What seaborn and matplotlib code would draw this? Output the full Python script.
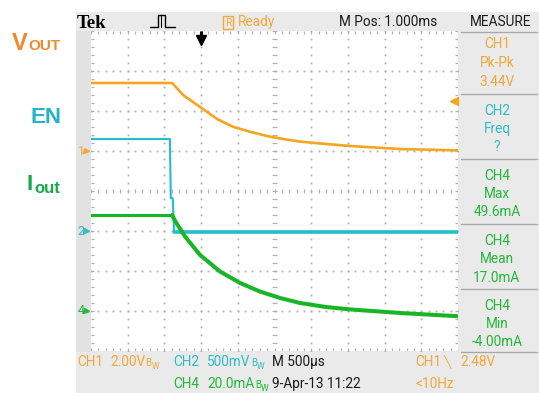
import matplotlib
matplotlib.use("Agg")
import matplotlib.pyplot as plt
from matplotlib import font_manager
from matplotlib.patches import Rectangle
from matplotlib.lines import Line2D
import numpy as np
import pandas as pd
import seaborn as sns

# ---------------- data ----------------
# CH1 (V_OUT), volts vs time relative to trigger (ms)
ch1_time_ms = [-1.50, -0.395, -0.32, -0.245, -0.014, 0.218, 0.436, 0.668, 0.899,
               1.117, 1.349, 1.580, 2.030, 2.711, 3.50]
ch1_volts = [3.40, 3.40, 3.10, 2.80, 2.20, 1.60, 1.21, 0.96, 0.75,
             0.60, 0.47, 0.39, 0.25, 0.10, 0.03]
# CH2 (EN), volts
ch2_time_ms = [-1.50, -0.425, -0.413, -0.386, -0.368]
ch2_volts = [1.15, 1.15, 0.41, 0.41, -0.01]
ch2_tail_time_ms = [-0.368, 0.50, 1.50, 2.50, 3.50]
ch2_tail_volts = [-0.01, -0.01, -0.01, -0.01, -0.01]
# CH4 (I_out), mA
ch4_flat_time_ms = [-1.50, -0.395]
ch4_flat_mA = [48.0, 48.0]
ch4_time_ms = [-0.395, -0.354, -0.218, -0.014, 0.259, 0.531, 0.804, 1.076,
               1.349, 1.700, 2.030, 2.711, 3.50]
ch4_mA = [48.0, 45.0, 37.2, 28.0, 19.7, 14.0, 9.7, 6.5,
          4.0, 2.0, 0.8, -1.0, -2.6]

# channel settings (units per division, ground position in divisions)
ch_scale = {"CH1": 2.0, "CH2": 0.5, "CH4": 20.0}
ch_ground_div = {"CH1": 1, "CH2": -1, "CH4": -3}
ch_marker_label = {"CH1": "1", "CH2": "2", "CH4": "4"}

time_per_div_ms = 0.5
t_left, t_right = -1.5, 3.5

measure_channels = ["CH1", "CH2", "CH4", "CH4", "CH4"]
measure_names = ["Pk-Pk", "Freq", "Max", "Mean", "Min"]
measure_values = ["3.44V", "?", "49.6mA", "17.0mA", "-4.00mA"]
trigger_level_v = 2.48

# ---------------- styling ----------------
W, H = 539, 393
ORANGE_T = "#F7A51E"
CYAN_T = "#22BECB"
GREEN_T = "#17B627"
ORANGE_TXT = "#F3A83A"
CYAN_TXT = "#2DBCC8"
GREEN_TXT = "#22B838"
ch_color = {"CH1": ORANGE_T, "CH2": CYAN_T, "CH4": GREEN_T}
ch_txt = {"CH1": ORANGE_TXT, "CH2": CYAN_TXT, "CH4": GREEN_TXT}
GRAY_BG = "#EAEAEA"
GRAY_BAND = "#E2E2E2"
GRID = "#B2B2B2"

sns.set_style("white")
names = {f.name for f in font_manager.fontManager.ttflist}
scope_font = "Liberation Sans Narrow" if "Liberation Sans Narrow" in names else "Roboto"
plt.rcParams["font.family"] = [scope_font, "DejaVu Sans"]
SF = 10.5 if scope_font == "Liberation Sans Narrow" else 9.8

fig = plt.figure(figsize=(W / 100, H / 100), dpi=100)
fig.patch.set_facecolor("white")
renderer = fig.canvas.get_renderer()


def rect(x0, y0, x1, y1, color, z=-5):
    fig.add_artist(Rectangle((x0 / W, 1 - y1 / H), (x1 - x0) / W, (y1 - y0) / H,
                             transform=fig.transFigure, facecolor=color,
                             edgecolor="none", zorder=z))


def hline_px(x0, x1, y, color="#A8A8A8", lw=1.0):
    fig.add_artist(Line2D([x0 / W, x1 / W], [1 - y / H, 1 - y / H],
                          transform=fig.transFigure, color=color, lw=lw, zorder=2))


def txt(x, y, s, ha="left", va="baseline", size=SF, color="#1A1A1A", **kw):
    return fig.text(x / W, 1 - y / H, s, ha=ha, va=va, fontsize=size, color=color, **kw)


def right(t):
    return t.get_window_extent(renderer=renderer).x1


# scope frame backgrounds
rect(76, 12, W, H, GRAY_BG)
rect(76, 31, 91, 352, GRAY_BAND, z=-4)

# ---------------- plot area ----------------
ax = fig.add_axes([91 / W, 1 - 351 / H, 367 / W, 320 / H])
ax.set_facecolor("white")
ax.set_xlim(t_left, t_right)
ax.set_ylim(-4, 4)
ax.set_xticks([])
ax.set_yticks([])
for s in ax.spines.values():
    s.set_visible(False)

# graticule
minor_x = np.arange(t_left, t_right + 1e-9, time_per_div_ms / 5)
minor_y = np.arange(-4, 4 + 1e-9, 0.2)
t_center = (t_left + t_right) / 2
for k in range(1, 10):
    xv = t_left + k * time_per_div_ms
    if abs(xv - t_center) < 1e-9:
        ax.hlines(minor_y, xv - 0.03, xv + 0.03, color=GRID, lw=0.9, zorder=1)
    else:
        ax.plot(np.full_like(minor_y, xv), minor_y, ls="none", marker="s", ms=1.3,
                mew=0, color=GRID, zorder=1)
for j in range(-3, 4):
    if j == 0:
        ax.vlines(minor_x, -0.055, 0.055, color=GRID, lw=0.9, zorder=1)
    else:
        ax.plot(minor_x, np.full_like(minor_x, j), ls="none", marker="s", ms=1.3,
                mew=0, color=GRID, zorder=1)
# edge ticks
ax.vlines(minor_x, 4 - 0.07, 4, color=GRID, lw=0.9, zorder=1)
ax.vlines(minor_x, -4, -4 + 0.07, color=GRID, lw=0.9, zorder=1)
ax.hlines(minor_y, t_left, t_left + 0.04, color=GRID, lw=0.9, zorder=1)
ax.hlines(minor_y, t_right - 0.04, t_right, color=GRID, lw=0.9, zorder=1)

# ---------------- traces ----------------
def to_div(ch, vals):
    return [v / ch_scale[ch] + ch_ground_div[ch] for v in vals]


segments = [
    ("CH1", ch1_time_ms, ch1_volts, 1.9),
    ("CH2", ch2_time_ms, ch2_volts, 1.5),
    ("CH2", ch2_tail_time_ms, ch2_tail_volts, 2.6),
    ("CH4", ch4_flat_time_ms, ch4_flat_mA, 2.2),
    ("CH4", ch4_time_ms, ch4_mA, 2.9),
]
for i, (ch, tt, vv, lw) in enumerate(segments):
    df = pd.DataFrame({"time_ms": tt, "div": to_div(ch, vv)})
    sns.lineplot(data=df, x="time_ms", y="div", ax=ax, color=ch_color[ch], lw=lw,
                 estimator=None, sort=False, legend=False, zorder=3 + i)
ax.set_xlabel("")
ax.set_ylabel("")
ax.set_xlim(t_left, t_right)
ax.set_ylim(-4, 4)

# ground markers on the left
for ch, lab in ch_marker_label.items():
    g = ch_ground_div[ch]
    ax.text(t_left - 0.085, g, lab, ha="right", va="center", fontsize=SF - 0.8,
            color=ch_txt[ch], clip_on=False)
    ax.plot([t_left - 0.065], [g], marker=">", ms=3.6, color=ch_txt[ch],
            clip_on=False, zorder=10)

# trigger position arrow (top) and trigger level marker (right)
ax.plot([0, 0], [3.99, 3.80], color="black", lw=2.2, clip_on=False, solid_capstyle="butt")
ax.plot([0], [3.78], marker="v", ms=6.5, color="black", clip_on=False, zorder=10)
lvl = trigger_level_v / ch_scale["CH1"] + ch_ground_div["CH1"]
ax.plot([3.44], [lvl], marker="<", ms=5.5, color=ORANGE_T, clip_on=False, zorder=10)
ax.plot([3.44, 3.5], [lvl, lvl], color=ORANGE_T, lw=1.5, clip_on=False)

# ---------------- top status bar ----------------
txt(77, 28, "Tek", size=13.5, color="black", family=["Liberation Serif", "DejaVu Serif"],
    fontweight="bold")
px_x = [150, 156, 157.5, 157.5, 165, 165, 166.5, 175]
px_y = [27, 27, 27, 14.5, 14.5, 27, 27, 27]
fig.add_artist(Line2D([x / W for x in px_x], [1 - y / H for y in px_y],
                      transform=fig.transFigure, color="black", lw=1.0, zorder=3))
fig.add_artist(Line2D([161.2 / W, 161.2 / W], [1 - 14.5 / H, 1 - 27 / H],
                      transform=fig.transFigure, color="black", lw=0.8, zorder=3))
txt(225, 25.5, "R", size=SF - 2.5, color=ORANGE_TXT,
    bbox=dict(boxstyle="square,pad=0.18", fc="none", ec=ORANGE_TXT, lw=1.0))
txt(238, 26, "Ready", color=ORANGE_TXT)
txt(339, 25.5, "M Pos: 1.000ms")
txt(501, 25.5, "MEASURE", ha="center")

# ---------------- measure panel ----------------
sep_y = [31.5, 94, 158.5, 223.5, 288.5, 352]
for y in sep_y:
    hline_px(461, 537, y)
base_rows = [(48.5, 67, 86.5), (115, 133, 151.5), (180, 198, 216.5),
             (245, 263, 281.5), (310, 328, 346.5)]
for ch, nm, val, (b1, b2, b3) in zip(measure_channels, measure_names, measure_values, base_rows):
    c = ch_txt[ch]
    txt(497, b1, ch, ha="center", color=c)
    txt(497, b2, nm, ha="center", color=c)
    txt(497, b3, val, ha="center", color=c)

# ---------------- bottom status bar ----------------
def bw_suffix(x, y, color):
    t = txt(x + 0.5, y, "B", size=SF - 2.8, color=color)
    txt(right(t) + 0.2, y + 3, "W", size=SF - 3.6, color=color)


txt(77, 366, "CH1", color=ORANGE_TXT)
t = txt(110, 366, "2.00V", color=ORANGE_TXT)
bw_suffix(right(t), 366, ORANGE_TXT)
txt(173, 366, "CH2", color=CYAN_TXT)
t = txt(207, 366, "500mV", color=CYAN_TXT)
bw_suffix(right(t), 366, CYAN_TXT)
txt(272, 366, "M 500\u00b5s")
txt(415, 366, "CH1", color=ORANGE_TXT)
txt(444, 366, "\u2572", color=ORANGE_TXT, family=["DejaVu Sans"], size=SF - 1)
txt(460, 366, "2.48V", color=ORANGE_TXT)

txt(173, 388, "CH4", color=GREEN_TXT)
t = txt(207, 388, "20.0mA", color=GREEN_TXT)
bw_suffix(right(t), 388, GREEN_TXT)
txt(272, 388, "9-Apr-13 11:22")
txt(415, 388, "<10Hz", color=ORANGE_TXT)

# ---------------- signal labels on the left ----------------
lab_font = ["Liberation Sans", "DejaVu Sans"]
t = txt(12, 50, "V", size=17, color="#F08A2C", family=lab_font, fontweight="bold")
txt(right(t) + 0.5, 50, "OUT", size=11, color="#F08A2C", family=lab_font, fontweight="bold")
txt(45.5, 123, "EN", ha="center", size=16, color="#22B4C7", family=lab_font, fontweight="bold")
t = txt(27, 190, "I", size=16, color="#17A947", family=lab_font, fontweight="bold")
txt(right(t) + 1, 193, "out", size=12, color="#17A947", family=lab_font, fontweight="bold")

fig.savefig("out.png", dpi=100, facecolor="white")
